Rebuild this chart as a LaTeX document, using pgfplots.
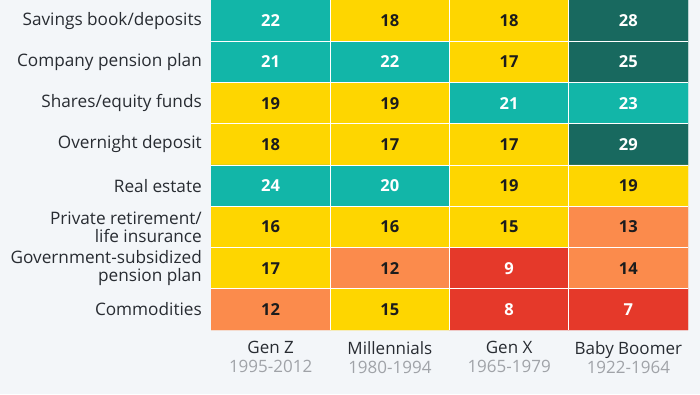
\documentclass[border=0pt]{standalone}
\usepackage{pgfplots}
\pgfplotsset{compat=1.18}
\usepackage{pgfplotstable}
\usepackage{fontspec}
\setmainfont{Open Sans}
\definecolor{bg}{RGB}{243,246,249}
\definecolor{labtxt}{RGB}{40,44,50}
\definecolor{numdark}{RGB}{28,28,28}
\definecolor{yeargray}{RGB}{160,163,168}

\pgfplotstableread{
x y v
0 0 22
1 0 18
2 0 18
3 0 28
0 1 21
1 1 22
2 1 17
3 1 25
0 2 19
1 2 19
2 2 21
3 2 23
0 3 18
1 3 17
2 3 17
3 3 29
0 4 24
1 4 20
2 4 19
3 4 19
0 5 16
1 5 16
2 5 15
3 5 13
0 6 17
1 6 12
2 6 9
3 6 14
0 7 12
1 7 15
2 7 8
3 7 7
}\heat

\begin{document}
\begin{tikzpicture}
\fill[bg] (0,0) rectangle (700pt,394pt);
\path[use as bounding box] (0,0) rectangle (700pt,394pt);
\begin{axis}[
  at={(211pt,64pt)}, anchor=south west,
  scale only axis, width=477pt, height=330pt,
  xmin=-0.5, xmax=3.5, ymin=-0.5, ymax=7.5,
  y dir=reverse,
  axis line style={draw=none},
  major tick length=0pt,
  tick style={draw=none},
  axis on top,
  minor xtick={0.5,1.5,2.5},
  minor ytick={0.5,1.5,...,6.5},
  xminorgrids, yminorgrids,
  minor grid style={white, line width=1pt},
  xtick={0,1,2,3},
  xticklabels={
    {Gen Z\\\color{yeargray}1995-2012},
    {Millennials\\\color{yeargray}1980-1994},
    {Gen X\\\color{yeargray}1965-1979},
    {Baby Boomer\\\color{yeargray}1922-1964}},
  xticklabel style={align=center, font=\fontsize{17}{19}\selectfont, text=labtxt, inner sep=0pt, yshift=-11pt},
  ytick={0,...,7},
  yticklabels={
    {Savings book/deposits},
    {Company pension plan},
    {Shares/equity funds},
    {Overnight deposit},
    {Real estate},
    {Private retirement/\\life insurance},
    {Government-subsidized\\pension plan},
    {Commodities}},
  yticklabel style={align=right, font=\fontsize{17.2}{18}\selectfont, text=labtxt, inner sep=0pt, xshift=-9pt},
  colormap={statheat}{
    rgb255(0pt)=(229,57,42)
    rgb255(9.5pt)=(251,139,76)
    rgb255(14.5pt)=(254,214,0)
    rgb255(19.5pt)=(18,182,168)
    rgb255(24.5pt)=(24,105,95)
    rgb255(30pt)=(24,105,95)},
  colormap access=piecewise constant,
  point meta min=0, point meta max=30,
]
\addplot[matrix plot*, mesh/cols=4, point meta=explicit] table[x=x, y=y, meta=v] {\heat};
\addplot[draw=none, mark=none, point meta=explicit symbolic,
  nodes near coords={\ifnum\pgfplotspointmeta<10 \color{white}\else\ifnum\pgfplotspointmeta>19 \color{white}\else\color{numdark}\fi\fi\pgfplotspointmeta},
  nodes near coords align=center,
  every node near coord/.append style={font=\fontsize{16.5}{18}\selectfont\bfseries, anchor=center}
] table[x=x, y=y, meta=v] {\heat};
\end{axis}
\end{tikzpicture}
\end{document}
